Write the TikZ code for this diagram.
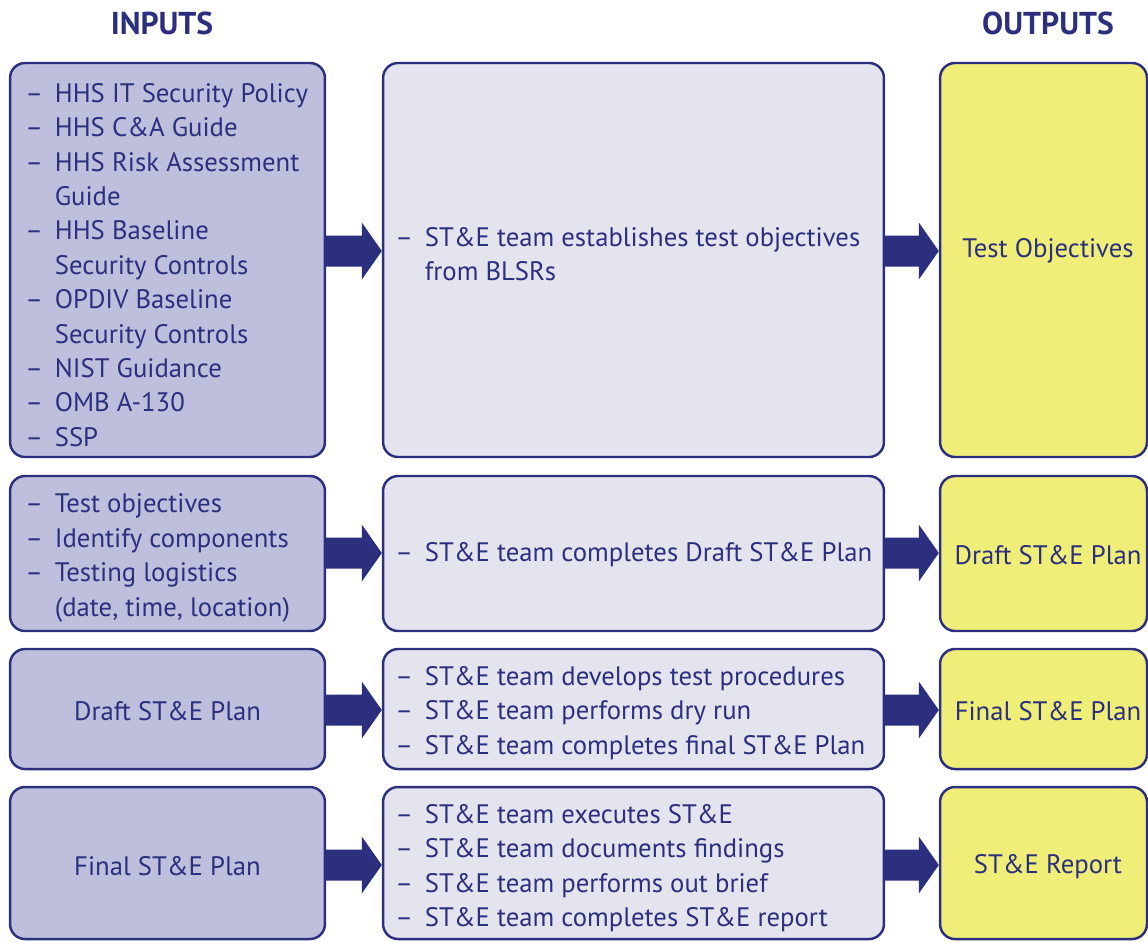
\documentclass[tikz,border=0pt]{standalone}
\usepackage{fontspec}
\setmainfont{PT Sans}
\usetikzlibrary{calc}
\definecolor{navy}{HTML}{2B2F7E}
\definecolor{infill}{HTML}{BEBFDC}
\definecolor{midfill}{HTML}{E4E4EF}
\definecolor{outfill}{HTML}{EEEE78}
% list helpers: a hanging dash and the indent of a continued line
\newcommand\itm[1]{\mbox{\makebox[0.59cm][l]{–}#1}}
\newcommand\cnt[1]{\mbox{\hspace*{0.59cm}#1}}
% thick block arrow from the east side of #1 to the west side of #2, tip at height #3
\newcommand\flowarrow[3]{%
  \fill[navy] ($(#1.east|-0,#3)+(0,-15.5)$) -- ($(#2.west|-0,#3)+(-20,-15.5)$)
    -- ($(#2.west|-0,#3)+(-20,-28.5)$) -- (#2.west|-0,#3)
    -- ($(#2.west|-0,#3)+(-20,28.5)$) -- ($(#2.west|-0,#3)+(-20,15.5)$)
    -- ($(#1.east|-0,#3)+(0,15.5)$) -- cycle;}
\begin{document}
\begin{tikzpicture}[x=0.02cm,y=-0.02cm,
  box/.style={draw=navy, line width=1.4pt, rounded corners=0.3cm, inner sep=0pt},
  inbox/.style={box, fill=infill, minimum width=6.3cm},
  midbox/.style={box, fill=midfill, minimum width=10.02cm},
  outbox/.style={box, fill=outfill, minimum width=4.14cm},
  txt/.style={text=navy, inner sep=0pt, align=left,
    font=\fontsize{15.2pt}{19.56pt}\selectfont},
  ctxt/.style={txt, align=center},
  header/.style={text=navy, font=\bfseries\fontsize{18pt}{20pt}\selectfont}]
\useasboundingbox (0,0) rectangle (1148,941);

\node[header] (hin) at (162,23) {INPUTS};
\node[header] (hout) at (1048,23) {OUTPUTS};

% boxes: inputs, activities, outputs
\node[inbox, minimum height=394*0.02cm] (in1) at (167.5,260) {};
\node[midbox, minimum height=394*0.02cm] (mid1) at (633.5,260) {};
\node[outbox, minimum height=394*0.02cm] (out1) at (1043.5,260) {};
\node[inbox, minimum height=155*0.02cm] (in2) at (167.5,553.5) {};
\node[midbox, minimum height=155*0.02cm] (mid2) at (633.5,553.5) {};
\node[outbox, minimum height=155*0.02cm] (out2) at (1043.5,553.5) {};
\node[inbox, minimum height=120*0.02cm] (in3) at (167.5,709) {};
\node[midbox, minimum height=120*0.02cm] (mid3) at (633.5,709) {};
\node[outbox, minimum height=120*0.02cm] (out3) at (1043.5,709) {};
\node[inbox, minimum height=152*0.02cm] (in4) at (167.5,863) {};
\node[midbox, minimum height=152*0.02cm] (mid4) at (633.5,863) {};
\node[outbox, minimum height=152*0.02cm] (out4) at (1043.5,863) {};

% row 1 texts
\node[txt, anchor=west] (tin1) at (25,265)
  {\itm{HHS IT Security Policy}\\ \itm{HHS C\&A Guide}\\ \itm{HHS Risk Assessment}\\
   \cnt{Guide}\\ \itm{HHS Baseline}\\ \cnt{Security Controls}\\ \itm{OPDIV Baseline}\\
   \cnt{Security Controls}\\ \itm{NIST Guidance}\\ \itm{OMB A-130}\\ \itm{SSP}};
\node[txt, anchor=west] (tmid1) at (395,254)
  {\itm{ST\&E team establishes test objectives}\\ \cnt{from BLSRs}};
\node[ctxt] (tout1) at (1048,251) {Test Objectives};

% row 2 texts
\node[txt, anchor=west] (tin2) at (25,558)
  {\itm{Test objectives}\\ \itm{Identify components}\\ \itm{Testing logistics}\\
   \cnt{(date, time, location)}};
\node[txt, anchor=west] (tmid2) at (395,555) {\itm{ST\&E team completes Draft ST\&E Plan}};
\node[ctxt] (tout2) at (1048,555) {Draft ST\&E Plan};

% row 3 texts
\node[ctxt] (tin3) at (167.5,711) {Draft ST\&E Plan};
\node[txt, anchor=west] (tmid3) at (395,713)
  {\itm{ST\&E team develops test procedures}\\ \itm{ST\&E team performs dry run}\\
   \itm{ST\&E team completes final ST\&E Plan}};
\node[ctxt] (tout3) at (1048,711) {Final ST\&E Plan};

% row 4 texts
\node[ctxt] (tin4) at (167.5,866) {Final ST\&E Plan};
\node[txt, anchor=west] (tmid4) at (395,868)
  {\itm{ST\&E team executes ST\&E}\\ \itm{ST\&E team documents findings}\\
   \itm{ST\&E team performs out brief}\\ \itm{ST\&E team completes ST\&E report}};
\node[ctxt] (tout4) at (1048,867) {ST\&E Report};

% arrows between the columns
\flowarrow{in1}{mid1}{251}
\flowarrow{mid1}{out1}{251}
\flowarrow{in2}{mid2}{553}
\flowarrow{mid2}{out2}{553}
\flowarrow{in3}{mid3}{710}
\flowarrow{mid3}{out3}{710}
\flowarrow{in4}{mid4}{865}
\flowarrow{mid4}{out4}{865}
\end{tikzpicture}
\end{document}
